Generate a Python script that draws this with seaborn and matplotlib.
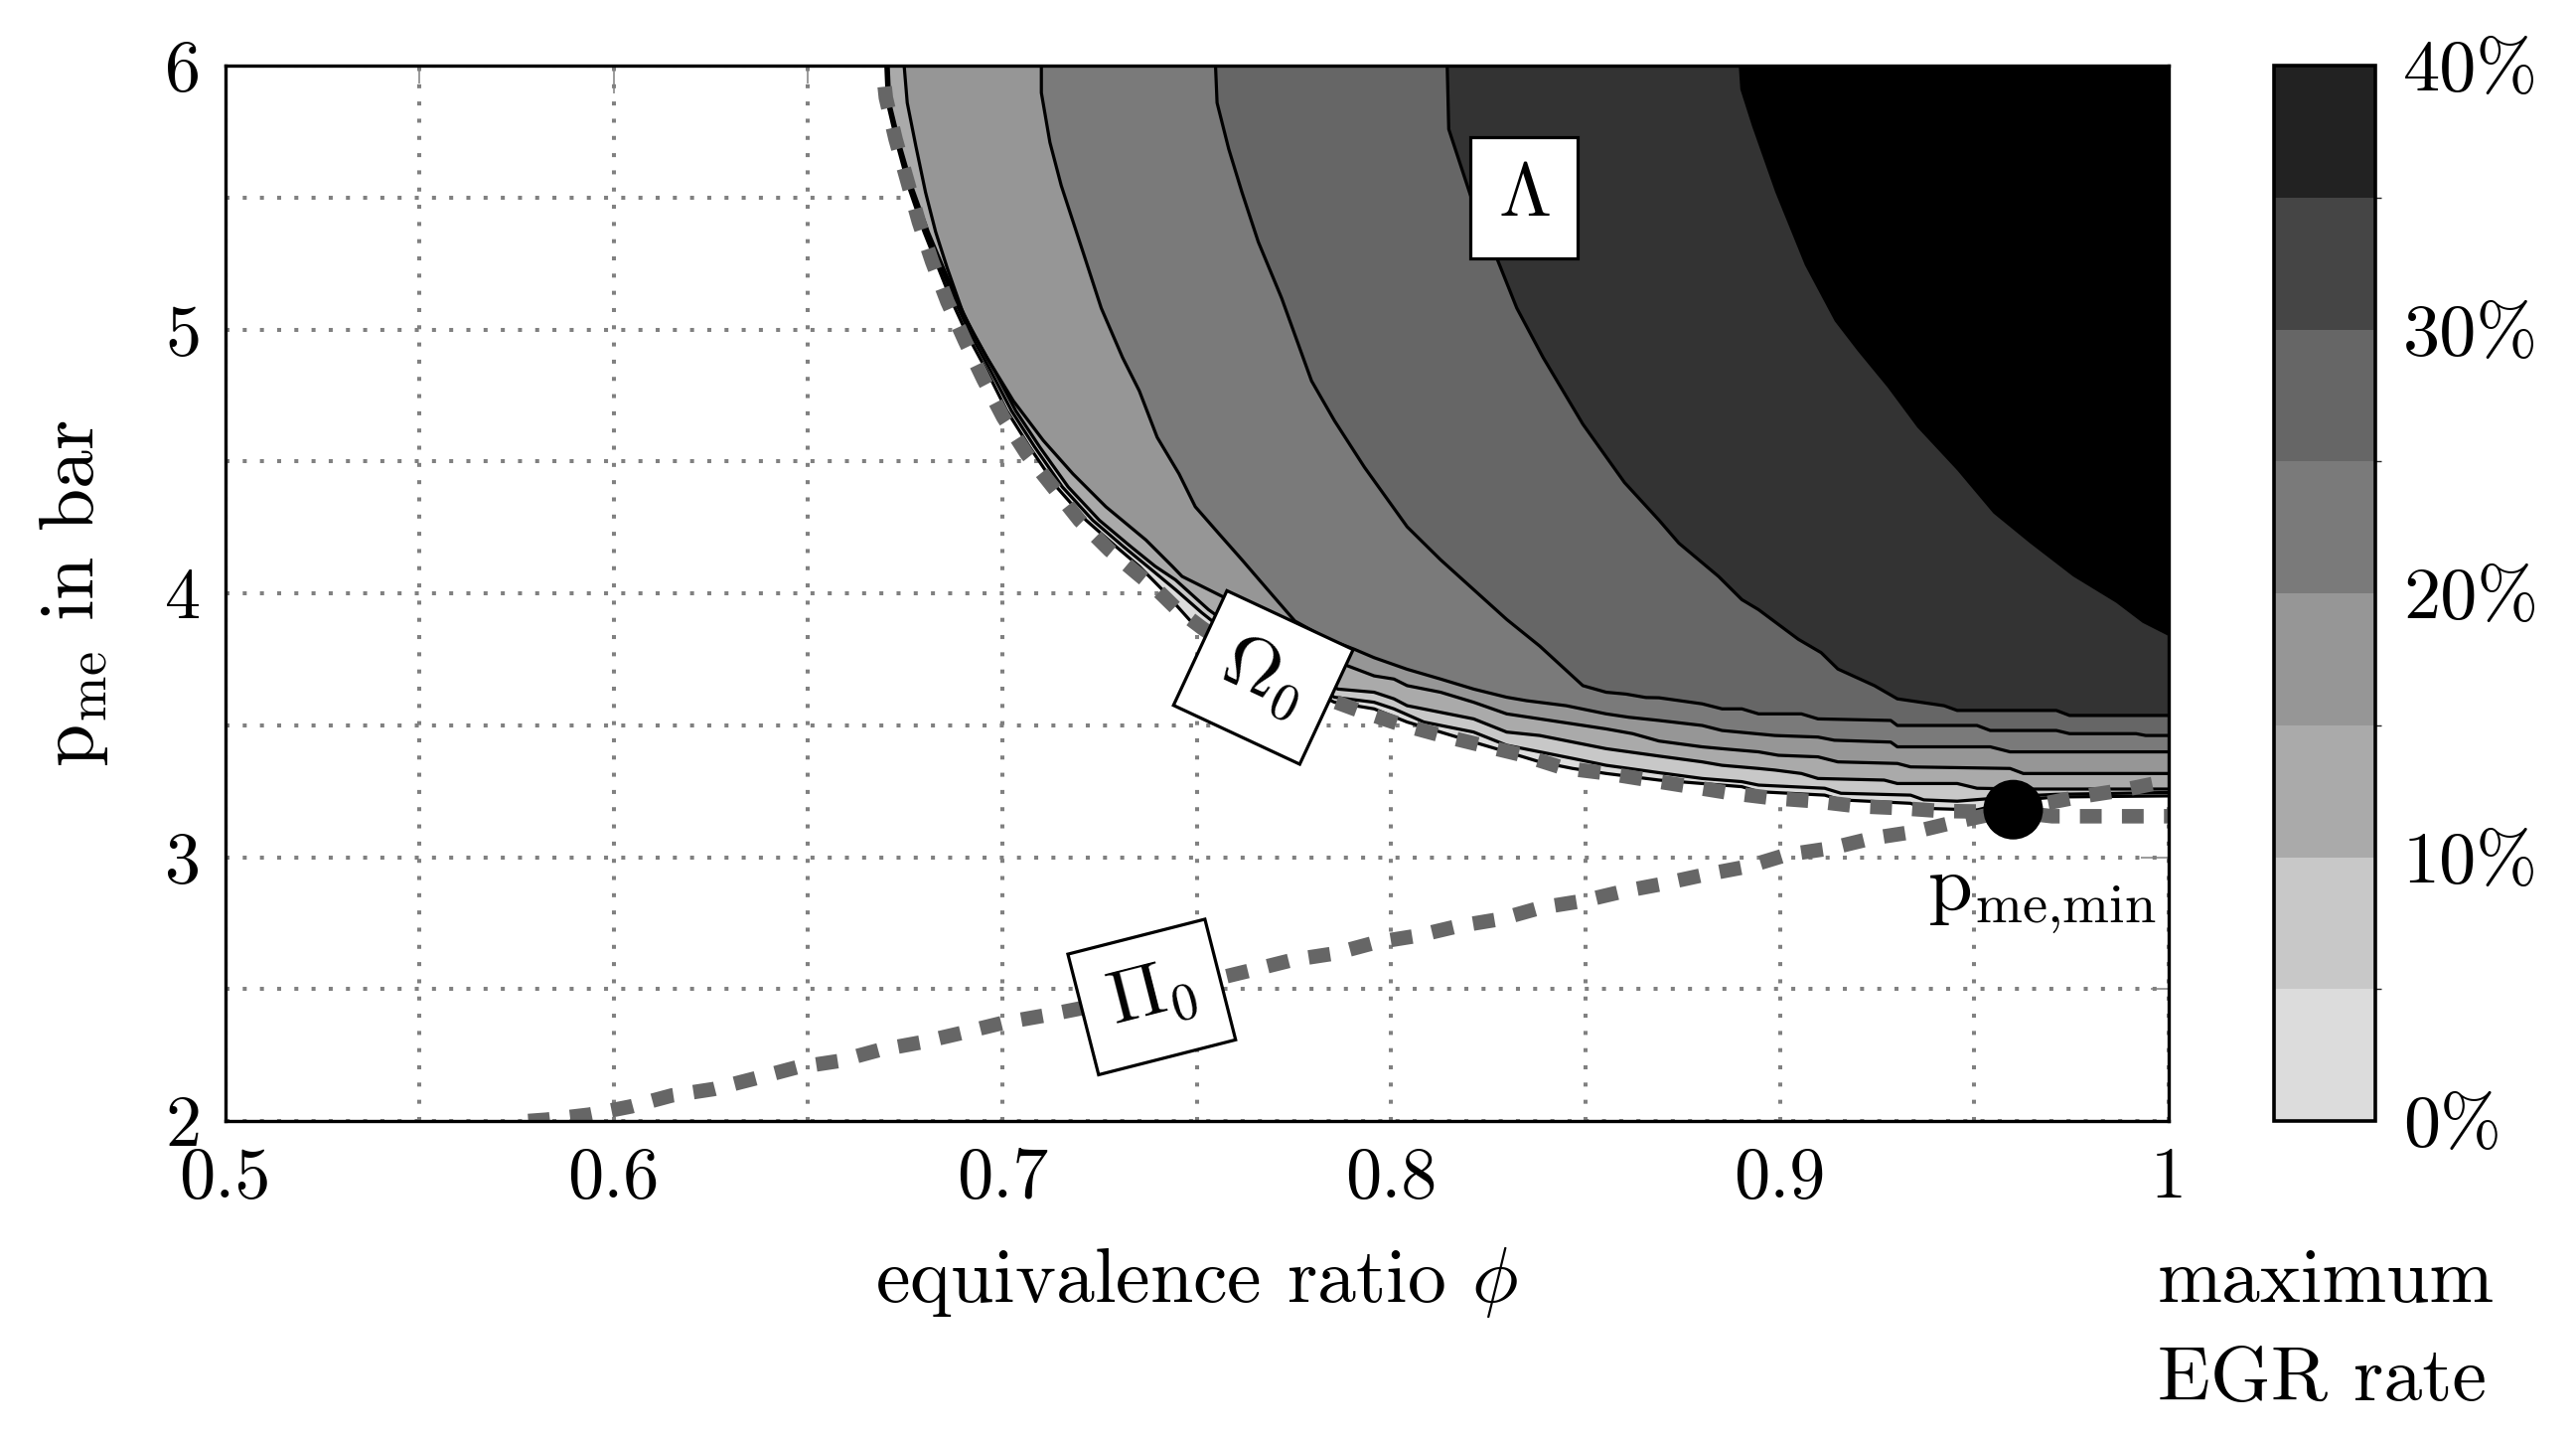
import numpy as np
import matplotlib
matplotlib.use("Agg")
import matplotlib.pyplot as plt
import seaborn as sns
from matplotlib.colors import ListedColormap, BoundaryNorm
from matplotlib.cm import ScalarMappable
from matplotlib.ticker import MultipleLocator, FixedLocator

# ---------------- data ----------------
egr_levels = [0, 5, 10, 15, 20, 25, 30, 35, 40]
egr_ticks = [0, 10, 20, 30, 40]
egr_tick_labels = ["0%", "10%", "20%", "30%", "40%"]

# iso-lines of maximum EGR rate (phi, p_me), from the top edge to the right edge
phi_egr00 = [0.6700, 0.6704, 0.6730, 0.6760, 0.6798, 0.6832, 0.6866, 0.6909, 0.6960, 0.7011, 0.7070,
             0.7139, 0.7215, 0.7292, 0.7352, 0.7411, 0.7488, 0.7600, 0.7720, 0.7854, 0.7956, 0.8041,
             0.8127, 0.8212, 0.8297, 0.8382, 0.8467, 0.8553, 0.8689, 0.8902, 0.8945, 0.9115, 0.9157,
             0.9336, 0.9370, 0.9507, 0.9541, 0.9626, 0.9711, 1.0]
pme_egr00 = [6.0, 5.859, 5.696, 5.533, 5.370, 5.244, 5.119, 4.981, 4.842, 4.692, 4.554,
             4.403, 4.277, 4.177, 4.102, 4.014, 3.888, 3.770, 3.680, 3.587, 3.562, 3.512,
             3.474, 3.436, 3.399, 3.361, 3.336, 3.317, 3.292, 3.267, 3.248, 3.235, 3.217,
             3.204, 3.185, 3.179, 3.191, 3.217, 3.228, 3.232]

phi_egr05 = [0.6703, 0.6707, 0.6734, 0.6765, 0.6804, 0.6839, 0.6874, 0.6918, 0.6970, 0.7023, 0.7083,
             0.7154, 0.7232, 0.7311, 0.7373, 0.7445, 0.7513, 0.7620, 0.7740, 0.7854, 0.7956, 0.8007,
             0.8084, 0.8212, 0.8297, 0.8382, 0.8467, 0.8553, 0.8689, 0.8800, 0.8902, 0.8945, 0.9115,
             0.9157, 0.9336, 0.9370, 0.9456, 0.9626, 0.9711, 1.0]
pme_egr05 = [6.0, 5.859, 5.696, 5.533, 5.370, 5.244, 5.119, 4.981, 4.842, 4.692, 4.554,
             4.403, 4.277, 4.177, 4.102, 4.014, 3.926, 3.800, 3.700, 3.606, 3.587, 3.562,
             3.512, 3.474, 3.424, 3.399, 3.374, 3.348, 3.320, 3.298, 3.286, 3.273, 3.261,
             3.242, 3.235, 3.217, 3.212, 3.232, 3.238, 3.245]

phi_egr10 = [0.6706, 0.6710, 0.6737, 0.6769, 0.6809, 0.6845, 0.6881, 0.6926, 0.6980, 0.7034, 0.7096,
             0.7169, 0.7249, 0.7330, 0.7393, 0.7445, 0.7530, 0.7640, 0.7760, 0.7863, 0.7956, 0.8007,
             0.8041, 0.8212, 0.8297, 0.8382, 0.8553, 0.8689, 0.8800, 0.8851, 0.8945, 0.8987, 0.9055,
             0.9098, 0.9268, 0.9302, 0.9456, 0.9507, 0.9626, 1.0]
pme_egr10 = [6.0, 5.859, 5.696, 5.533, 5.370, 5.244, 5.119, 4.981, 4.842, 4.692, 4.554,
             4.403, 4.277, 4.177, 4.102, 4.051, 3.938, 3.820, 3.720, 3.637, 3.625, 3.600,
             3.574, 3.524, 3.474, 3.461, 3.411, 3.383, 3.361, 3.348, 3.336, 3.330, 3.317,
             3.298, 3.292, 3.279, 3.279, 3.261, 3.258, 3.258]

phi_egr15 = [0.6747, 0.6755, 0.6777, 0.6802, 0.6828, 0.6858, 0.6900, 0.6960, 0.7028, 0.7105, 0.7181,
             0.7266, 0.7369, 0.7437, 0.7462, 0.7564, 0.7660, 0.7780, 0.7888, 0.7956, 0.8007, 0.8041,
             0.8127, 0.8212, 0.8297, 0.8382, 0.8553, 0.8621, 0.8689, 0.8800, 0.8851, 0.8945, 0.8996,
             0.9098, 0.9149, 0.9302, 0.9336, 0.9592, 0.9626, 1.0]
pme_egr15 = [6.0, 5.859, 5.696, 5.520, 5.370, 5.232, 5.056, 4.893, 4.729, 4.579, 4.453,
             4.328, 4.202, 4.102, 4.064, 3.989, 3.900, 3.800, 3.725, 3.687, 3.675, 3.650,
             3.625, 3.587, 3.543, 3.524, 3.486, 3.468, 3.440, 3.418, 3.411, 3.399, 3.386,
             3.380, 3.361, 3.355, 3.342, 3.336, 3.317, 3.317]

phi_egr20 = [0.7100, 0.7100, 0.7122, 0.7151, 0.7207, 0.7254, 0.7309, 0.7352, 0.7398, 0.7454, 0.7496,
             0.7556, 0.7616, 0.7675, 0.7752, 0.7837, 0.7905, 0.7956, 0.8041, 0.8127, 0.8212, 0.8297,
             0.8348, 0.8450, 0.8553, 0.8612, 0.8689, 0.8800, 0.8851, 0.8987, 0.9098, 0.9140, 0.9285,
             0.9302, 0.9541, 0.9592, 1.0]
pme_egr20 = [6.0, 5.897, 5.709, 5.546, 5.294, 5.081, 4.893, 4.767, 4.591, 4.453, 4.328,
             4.227, 4.127, 4.026, 3.895, 3.826, 3.788, 3.756, 3.712, 3.675, 3.637, 3.606,
             3.593, 3.574, 3.543, 3.530, 3.518, 3.499, 3.480, 3.461, 3.455, 3.443, 3.436,
             3.418, 3.418, 3.399, 3.399]

phi_egr25 = [0.7548, 0.7552, 0.7582, 0.7616, 0.7658, 0.7718, 0.7795, 0.7854, 0.7931, 0.8041, 0.8127,
             0.8212, 0.8297, 0.8382, 0.8493, 0.8553, 0.8604, 0.8655, 0.8689, 0.8800, 0.8851, 0.8902,
             0.8945, 0.9055, 0.9098, 0.9285, 0.9302, 0.9507, 0.9541, 0.9711, 0.9745, 0.9916, 0.9941, 1.0]
pme_egr25 = [6.0, 5.859, 5.684, 5.520, 5.332, 5.119, 4.805, 4.654, 4.478, 4.252, 4.127,
             4.014, 3.901, 3.800, 3.650, 3.625, 3.618, 3.605, 3.604, 3.581, 3.562, 3.562,
             3.543, 3.543, 3.524, 3.518, 3.499, 3.499, 3.480, 3.480, 3.468, 3.468, 3.461, 3.461]

phi_egr30 = [0.8144, 0.8148, 0.8204, 0.8272, 0.8323, 0.8391, 0.8493, 0.8600, 0.8689, 0.8740, 0.8842,
             0.8902, 0.8945, 0.9047, 0.9106, 0.9149, 0.9243, 0.9302, 0.9422, 0.9456, 0.9711, 0.9745, 1.0]
pme_egr30 = [6.0, 5.759, 5.508, 5.269, 5.081, 4.893, 4.641, 4.420, 4.277, 4.190, 4.064,
             3.976, 3.938, 3.826, 3.775, 3.713, 3.650, 3.600, 3.574, 3.556, 3.556, 3.537, 3.537]

phi_egr35 = [0.8894, 0.8898, 0.8928, 0.8988, 0.9064, 0.9141, 0.9200, 0.9277, 0.9353, 0.9456, 0.9549,
             0.9643, 0.9754, 0.9865, 0.9933, 1.0]
pme_egr35 = [6.0, 5.910, 5.771, 5.520, 5.244, 5.031, 4.918, 4.780, 4.629, 4.466, 4.303,
             4.190, 4.064, 3.964, 3.888, 3.838]

# boundary Omega_0 (dashed)
phi_omega0 = [0.6697, 0.6700, 0.6725, 0.6755, 0.6785, 0.6819, 0.6858, 0.6904, 0.6951, 0.7002, 0.7062,
              0.7130, 0.7198, 0.7275, 0.7345, 0.7400, 0.7445, 0.7513, 0.7650, 0.7780, 0.7918, 0.8020,
              0.8127, 0.8233, 0.8340, 0.8442, 0.8553, 0.8659, 0.8766, 0.8872, 0.8979, 0.9089, 0.9200,
              0.9307, 0.9413, 0.9507, 0.9600, 0.9700, 1.0]
pme_omega0 = [5.920, 5.878, 5.721, 5.564, 5.407, 5.257, 5.106, 4.955, 4.811, 4.667, 4.529,
              4.403, 4.277, 4.164, 4.077, 4.010, 3.945, 3.869, 3.730, 3.630, 3.555, 3.505,
              3.462, 3.424, 3.386, 3.338, 3.318, 3.293, 3.268, 3.243, 3.224, 3.212, 3.193,
              3.186, 3.175, 3.173, 3.172, 3.155, 3.155]

# line Pi_0 (dashed)
phi_pi0 = [0.5780, 0.5827, 0.5937, 0.6044, 0.6150, 0.6257, 0.6363, 0.6470, 0.6578, 0.6683, 0.6791,
           0.6896, 0.7001, 0.7109, 0.7384, 0.7642, 0.7748, 0.7855, 0.7961, 0.8067, 0.8173, 0.8280,
           0.8386, 0.8493, 0.8599, 0.8689, 0.8808, 0.8919, 0.9017, 0.9132, 0.9238, 0.9349, 0.9456,
           0.9600, 0.9771, 0.9882, 1.0]
pme_pi0 = [2.000, 2.005, 2.024, 2.055, 2.097, 2.121, 2.161, 2.203, 2.227, 2.269, 2.298,
           2.334, 2.372, 2.400, 2.480, 2.572, 2.611, 2.635, 2.677, 2.702, 2.739, 2.765,
           2.809, 2.834, 2.871, 2.896, 2.934, 2.965, 3.009, 3.034, 3.072, 3.097, 3.135,
           3.180, 3.229, 3.254, 3.290]

pmin_phi = [0.96]
pmin_pme = [3.18]

x_ticks = [0.5, 0.6, 0.7, 0.8, 0.9, 1.0]
x_tick_labels = ["0.5", "0.6", "0.7", "0.8", "0.9", "1"]
y_ticks = [2, 3, 4, 5, 6]
y_tick_labels = ["2", "3", "4", "5", "6"]

band_colors = ["#dcdcdc", "#c8c8c8", "#aaaaaa", "#969696", "#7a7a7a", "#666666", "#333333", "#000000"]
cbar_colors = ["#dcdcdc", "#c8c8c8", "#aaaaaa", "#969696", "#7a7a7a", "#666666", "#454545", "#222222"]

# ---------------- styling ----------------
sns.set_theme(style="white")
plt.rcParams["font.family"] = ["cmr10", "DejaVu Serif"]
plt.rcParams["mathtext.fontset"] = "cm"
plt.rcParams["axes.formatter.use_mathtext"] = True
plt.rcParams["axes.unicode_minus"] = False
plt.rcParams["text.color"] = "black"
plt.rcParams["axes.labelcolor"] = "black"
plt.rcParams["xtick.labelcolor"] = "black"
plt.rcParams["ytick.labelcolor"] = "black"

W, H = 2593, 1448
fig = plt.figure(figsize=(W / 100, H / 100), dpi=100)
fig.patch.set_facecolor("white")

ax_l, ax_r, ax_t, ax_b = 226.5, 2183.0, 66.0, 1128.0
ax = fig.add_axes([ax_l / W, 1 - ax_b / H, (ax_r - ax_l) / W, (ax_b - ax_t) / H])
ax.set_facecolor("white")
ax.set_xlim(0.5, 1.0)
ax.set_ylim(2, 6)
ax.set_axisbelow(True)

ax.xaxis.set_major_locator(FixedLocator(x_ticks))
ax.yaxis.set_major_locator(FixedLocator(y_ticks))
ax.xaxis.set_minor_locator(MultipleLocator(0.05))
ax.yaxis.set_minor_locator(MultipleLocator(0.5))
ax.set_xticklabels(x_tick_labels)
ax.set_yticklabels(y_tick_labels)
ax.grid(which="both", color="#808080", linestyle=(0, (1, 3.3)), linewidth=2.9)
ax.tick_params(which="both", direction="in", top=True, right=True, color="#808080", width=1.1)
ax.tick_params(which="major", length=20)
ax.tick_params(which="minor", length=13)
ax.tick_params(axis="x", which="major", labelsize=52, pad=19, labelcolor="black")
ax.tick_params(axis="y", which="major", labelsize=52, pad=17.5, labelcolor="black")
for s in ax.spines.values():
    s.set_color("black")
    s.set_linewidth(2.4)
    s.set_zorder(10)

# filled EGR bands
curves = [(phi_egr00, pme_egr00), (phi_egr05, pme_egr05), (phi_egr10, pme_egr10), (phi_egr15, pme_egr15),
          (phi_egr20, pme_egr20), (phi_egr25, pme_egr25), (phi_egr30, pme_egr30), (phi_egr35, pme_egr35)]
for (cx, cy), col in zip(curves, band_colors):
    ax.fill(list(cx) + [1.0], list(cy) + [6.0], color=col, lw=0, zorder=1)
for cx, cy in curves[:-1]:
    ax.plot(cx, cy, color="black", lw=2.3, zorder=2, solid_joinstyle="round")

# dashed boundaries
for px, py in [(phi_omega0, pme_omega0), (phi_pi0, pme_pi0)]:
    sns.lineplot(x=px, y=py, sort=False, estimator=None, color="#666666", linewidth=10.5, ax=ax, zorder=3)
    ln = ax.lines[-1]
    ln.set_dashes([1.5, 1.4])
    ln.set_dash_capstyle("butt")

sns.scatterplot(x=pmin_phi, y=pmin_pme, s=1866, color="black", edgecolor="none", ax=ax, zorder=6, legend=False)

box = dict(boxstyle="square,pad=0.36", fc="white", ec="black", lw=2.3)
ax.text(0.8342, 5.50, r"$\Lambda$", fontsize=55, ha="center", va="center", bbox=box, zorder=7, color="black")
ax.text(0.7671, 3.681, r"$\Omega_0$", fontsize=55, ha="center", va="center", rotation=-25,
        rotation_mode="anchor", bbox=box, zorder=7, color="black")
ax.text(0.7384, 2.470, r"$\Pi_0$", fontsize=55, ha="center", va="center", rotation=14.3,
        rotation_mode="anchor", bbox=box, zorder=7, color="black")
ax.text(0.9675, 2.836, r"$\mathrm{p}_\mathrm{me{,}min}$", fontsize=58, ha="center", va="center",
        zorder=7, color="black")

ax.set_xlabel(r"equivalence ratio $\phi$", fontsize=56, color="black")
ax.xaxis.set_label_coords(0.5, (ax_b - 1290) / (ax_b - ax_t))
ax.xaxis.label.set_va("center")
ax.set_ylabel(r"$\mathrm{p}_\mathrm{me}$ in bar", fontsize=56, color="black")
ax.yaxis.set_label_coords((74 - ax_l) / (ax_r - ax_l), 0.5)
ax.yaxis.label.set_va("center")

# colorbar
cb_l, cb_r = 2289.0, 2391.0
cax = fig.add_axes([cb_l / W, 1 - ax_b / H, (cb_r - cb_l) / W, (ax_b - ax_t) / H])
cmap = ListedColormap(cbar_colors)
norm = BoundaryNorm(egr_levels, cmap.N)
cb = fig.colorbar(ScalarMappable(norm=norm, cmap=cmap), cax=cax, ticks=egr_ticks)
cb.ax.set_yticklabels(egr_tick_labels)
cb.ax.tick_params(length=0, pad=20, labelsize=53.5, labelcolor="black")
cb.outline.set_linewidth(2.6)
cb.outline.set_edgecolor("black")

fig.text(2172 / W, 1 - 1310 / H, "maximum", fontsize=56, ha="left", va="baseline", color="black")
fig.text(2172 / W, 1 - 1409 / H, "EGR rate", fontsize=56, ha="left", va="baseline", color="black")

fig.savefig("out.png", dpi=100, facecolor="white")
